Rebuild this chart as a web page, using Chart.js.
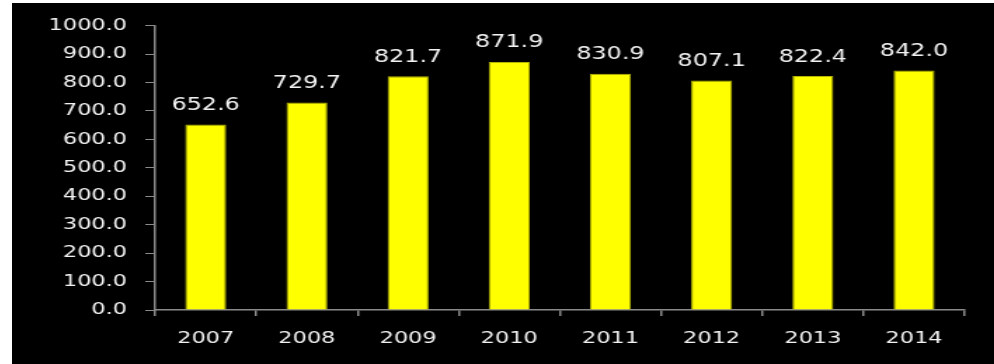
<!DOCTYPE html>
<html>
<head>
<meta charset="utf-8">
<script src="https://cdn.jsdelivr.net/npm/chart.js@4"></script>
<style>
    html, body { margin: 0; padding: 0; background: #fff; }
    body { width: 994px; height: 364px; overflow: hidden; position: relative; }
    .panel { position: absolute; left: 12px; top: 3px; width: 982px; height: 361px; background: #000; overflow: hidden; }
    /* the chart is laid out narrow and stretched wide, like the original slide */
    .stretch { position: absolute; left: 0; top: 0; width: 700px; height: 361px; transform: scaleX(1.403); transform-origin: 0 0; }
</style>
</head>
<body>
<div class="panel">
    <div class="stretch"><canvas id="chart"></canvas></div>
</div>
<script>
const years = ['2007', '2008', '2009', '2010', '2011', '2012', '2013', '2014'];
const values = [652.6, 729.7, 821.7, 871.9, 830.9, 807.1, 822.4, 842.0];
const yTicks = [0, 100, 200, 300, 400, 500, 600, 700, 800, 900, 1000];

const fontFamily = 'Verdana, "DejaVu Sans", sans-serif';
const axisGray = '#8a8a8a';
const textColor = '#f2f2f2';

// values written above each bar
const barLabels = {
    id: 'barLabels',
    afterDatasetsDraw(chart) {
        const ctx = chart.ctx;
        const meta = chart.getDatasetMeta(0);
        ctx.save();
        ctx.fillStyle = textColor;
        ctx.font = '17px ' + fontFamily;
        ctx.textAlign = 'center';
        ctx.textBaseline = 'middle';
        meta.data.forEach((bar, i) => {
            ctx.fillText(values[i].toFixed(1), bar.x, bar.y - 19);
        });
        ctx.restore();
    }
};

new Chart(document.getElementById('chart'), {
    type: 'bar',
    data: {
        labels: years,
        datasets: [{
            data: values,
            backgroundColor: '#ffff00',
            borderColor: '#b5b500',
            borderWidth: 1,
            barPercentage: 0.405,
            categoryPercentage: 1
        }]
    },
    options: {
        responsive: true,
        maintainAspectRatio: false,
        animation: false,
        layout: { padding: { top: 22, right: 21, left: 0, bottom: 0 } },
        plugins: {
            legend: { display: false },
            tooltip: { enabled: false }
        },
        scales: {
            x: {
                afterFit(scale) { scale.height = 54; },
                grid: {
                    offset: true,
                    drawOnChartArea: false,
                    tickLength: 6,
                    color: axisGray,
                    lineWidth: 1.5
                },
                border: { color: axisGray, width: 1.5 },
                ticks: {
                    color: textColor,
                    padding: 13,
                    font: { size: 16, family: fontFamily }
                }
            },
            y: {
                min: 0,
                max: 1000,
                afterFit(scale) { scale.width = 102; },
                afterBuildTicks(scale) { scale.ticks = yTicks.map(v => ({ value: v })); },
                grid: {
                    drawOnChartArea: false,
                    tickLength: 7,
                    color: axisGray,
                    lineWidth: 1
                },
                border: { color: axisGray, width: 1.5 },
                ticks: {
                    color: textColor,
                    padding: 13,
                    font: { size: 16, family: fontFamily },
                    callback: v => v.toFixed(1)
                }
            }
        }
    },
    plugins: [barLabels]
});
</script>
</body>
</html>
